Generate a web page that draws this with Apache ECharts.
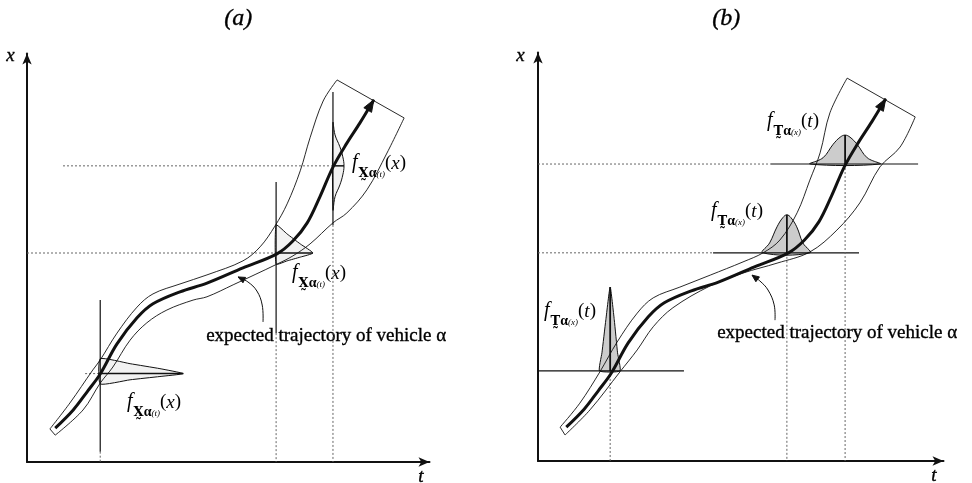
<!DOCTYPE html>
<html>
<head>
<meta charset="utf-8">
<script src="https://cdn.jsdelivr.net/npm/echarts@6/dist/echarts.min.js"></script>
<style>
  html, body { margin: 0; padding: 0; background: #fff; }
  #chart { width: 972px; height: 483px; }
</style>
</head>
<body>
<div id="chart"></div>
<script>
// ---- data (t, x) in axis units ----
// expected trajectory of vehicle alpha (same in both panels)
const trajectory = [[6.9,8.2],[11.3,12.6],[14.7,17.0],[17.9,21.3],[22.0,28.6],[26.9,34.9],[30.8,38.3],
  [37.4,41.2],[44.0,43.3],[52.8,47.0],[61.1,50.4],[65.0,53.5],[68.5,57.9],[71.6,64.2],[74.8,71.4],
  [78.2,77.2],[81.4,82.1],[84.8,87.7]];

// panel (a): uncertainty band spreading in x
const upperA = [[5.6,8.0],[10.5,14.3],[16.1,22.3],[17.9,24.7],[22.0,31.2],[26.9,37.5],[30.8,40.7],[37.4,43.1],
  [44.0,45.3],[52.8,48.7],[57.0,52.1],[60.6,57.1],[63.6,62.5],[66.8,70.5],[69.2,78.5],[72.4,87.4],[75.8,92.5]];
const lowerA = [[6.9,6.5],[13.7,12.6],[17.9,19.1],[21.0,23.0],[25.2,29.5],[29.3,33.7],[34.2,36.8],[40.6,39.2],
  [44.0,40.0],[50.4,42.9],[61.1,47.9],[65.0,49.9],[69.2,52.8],[74.8,57.9],[78.2,60.3],[83.1,65.9],[88.0,74.8],[92.2,83.3]];

// panel (b): uncertainty band spreading in t
const upperB = [[5.4,8.2],[10.2,14.0],[15.1,21.6],[19.3,28.8],[24.2,35.8],[28.1,39.5],[34.6,42.1],[42.0,45.0],
  [50.0,48.2],[54.9,50.4],[59.0,53.5],[63.2,60.1],[66.3,68.0],[68.8,74.6],[71.2,84.3],[75.4,92.7]];
const lowerB = [[6.6,6.3],[12.7,12.4],[20.0,21.6],[24.2,26.9],[28.1,32.5],[32.9,37.1],[42.0,42.4],[50.0,45.5],
  [58.3,47.9],[66.3,50.6],[72.9,55.9],[78.5,62.5],[83.4,71.2],[88.3,76.0],[92.0,83.3]];

// densities of X(t) in panel (a): mean point and [offset in x, density]
const meansA = [[17.9,21.4],[60.9,50.6],[74.8,71.7]];
const densA1 = [[3.6,0],[2.4,7.3],[1.2,14.6],[0,20.3],[-0.7,14.6],[-1.5,7.3],[-2.5,0]];
const densA2 = [[6.8,0],[4.6,2.7],[2.2,5.9],[0,9.0],[-1.0,5.9],[-1.9,2.7],[-2.7,0]];
const densA3 = [[10.4,0],[7.5,0.5],[4.6,1.7],[2.2,2.4],[0,2.7],[-2.2,2.4],[-4.6,1.7],[-7.5,0.5],[-10.6,0]];
// vertical reference lines of panel (a): [t, solid top, solid bottom]
const cutsA = [[17.9,39.2,2.5],[60.9,67.8,31.2],[74.8,89.6,57.4]];
// dotted level lines of panel (a): [x, t from, t to]
const levelsA = [[21.4,14.2,17.9],[50.6,0,60.9],[71.7,8.8,74.8]];

// densities of T(x) in panel (b): mean point and [offset in t, density]
const meansB = [[17.6,21.8],[60.7,50.4],[74.9,71.9]];
const densB1 = [[-2.6,0],[-2.0,4.4],[-1.05,12.4],[0,20.3],[1.0,12.4],[1.8,4.4],[2.4,0]];
const densB2 = [[-5.9,0],[-4.2,2.4],[-2.4,6.3],[-1.0,8.5],[0,9.2],[1.0,8.5],[2.4,6.3],[3.9,2.4],[5.6,0]];
const densB3 = [[-8.5,0],[-5.4,1.5],[-2.9,4.8],[-1.2,6.5],[0,7.0],[1.2,6.5],[2.9,4.8],[5.4,1.5],[8.5,0]];
// horizontal level lines of panel (b): [x, dotted from, solid from, solid to]
const levelsB = [[21.8,0,0,35.6],[50.4,0,42.7,78.3],[71.9,0,56.8,92.7]];

// pointer from the caption to the trajectory
const pointerA = [[57.7,33.9],[57.5,38.0],[56.2,41.4],[54.0,43.6],[51.6,44.8]];
const pointerB = [[57.8,34.1],[57.6,37.8],[56.1,41.4],[54.1,43.6],[52.2,45.0]];

// ---- drawing helpers ----
const SERIF = 'Liberation Serif, Times New Roman, serif';
const INK = '#111';

function arrowHead(p0, p1, len, half) {
  const dx = p1[0] - p0[0], dy = p1[1] - p0[1];
  const d = Math.hypot(dx, dy) || 1;
  const ux = dx / d, uy = dy / d, nx = -uy, ny = ux;
  const bx = p1[0] - ux * len, by = p1[1] - uy * len;
  return [[p1[0], p1[1]], [bx + nx * half, by + ny * half], [bx - nx * half, by - ny * half]];
}

// one custom series drawing a polyline / polygon through the grid's axes
function shape(gi, pts, style, opt) {
  opt = opt || {};
  return {
    type: 'custom', xAxisIndex: gi, yAxisIndex: gi, silent: true, clip: false,
    animation: false, z: opt.z || 2, data: [[0, 0]],
    renderItem: function (params, api) {
      const p = pts.map(function (d) { return api.coord(d); });
      const kids = [{
        type: opt.closed ? 'polygon' : 'polyline',
        shape: { points: p, smooth: opt.smooth || 0 },
        style: Object.assign({ fill: 'none', stroke: INK, lineWidth: 1 }, style)
      }];
      if (opt.arrow) {
        const n = p.length;
        kids.push({ type: 'polygon', shape: { points: arrowHead(p[n - 2], p[n - 1], opt.arrow[0], opt.arrow[1]) },
          style: { fill: INK, stroke: INK, lineWidth: 1 } });
      }
      return { type: 'group', children: kids };
    }
  };
}

const dotted = { stroke: '#666', lineWidth: 1, lineDash: [2, 2] };
const series = [];

// --- panel (a) ---
levelsA.forEach(function (l) { series.push(shape(0, [[l[1], l[0]], [l[2], l[0]]], dotted)); });
cutsA.forEach(function (c) {
  series.push(shape(0, [[c[0], c[1]], [c[0], c[2]]], { lineWidth: 1.2 }));
  series.push(shape(0, [[c[0], c[2]], [c[0], 0]], dotted));
});
[densA1, densA2, densA3].forEach(function (d, i) {
  const m = meansA[i];
  const pts = d.map(function (q) { return [m[0] + q[1], m[1] + q[0]]; });
  series.push(shape(0, pts, { fill: 'rgba(0,0,0,0.05)', lineWidth: 1 }, { closed: true, smooth: i === 2 ? 0.4 : 0.15, z: 3 }));
  const peak = Math.max.apply(null, d.map(function (q) { return q[1]; }));
  series.push(shape(0, [[m[0], m[1]], [m[0] + peak, m[1]]], { lineWidth: 1.5 }, { z: 3 }));
});
series.push(shape(0, upperA, { lineWidth: 0.9 }, { smooth: 0.35, z: 4 }));
series.push(shape(0, lowerA, { lineWidth: 0.9 }, { smooth: 0.35, z: 4 }));
series.push(shape(0, [upperA[0], lowerA[0]], { lineWidth: 0.9 }, { z: 4 }));
series.push(shape(0, [upperA[upperA.length - 1], lowerA[lowerA.length - 1]], { lineWidth: 0.9 }, { z: 4 }));
series.push(shape(0, trajectory, { lineWidth: 3 }, { smooth: 0.35, z: 5, arrow: [12, 4.5] }));
series.push(shape(0, pointerA, { lineWidth: 1 }, { smooth: 0.4, z: 5, arrow: [7, 3] }));

// --- panel (b) ---
levelsB.forEach(function (l) {
  if (l[2] > l[1]) series.push(shape(1, [[l[1], l[0]], [l[2], l[0]]], dotted));
  series.push(shape(1, [[l[2], l[0]], [l[3], l[0]]], { lineWidth: 1.2 }));
});
meansB.forEach(function (m) { series.push(shape(1, [[m[0], m[1]], [m[0], 0]], dotted)); });
[densB1, densB2, densB3].forEach(function (d, i) {
  const m = meansB[i];
  const pts = d.map(function (q) { return [m[0] + q[0], m[1] + q[1]]; });
  series.push(shape(1, pts, { fill: 'rgba(0,0,0,0.2)', lineWidth: 1 }, { closed: true, smooth: i === 0 ? 0.15 : 0.4, z: 3 }));
  const peak = Math.max.apply(null, d.map(function (q) { return q[1]; }));
  series.push(shape(1, [[m[0], m[1]], [m[0], m[1] + peak]], { lineWidth: 1.8 }, { z: 3 }));
});
series.push(shape(1, upperB, { lineWidth: 0.9 }, { smooth: 0.35, z: 4 }));
series.push(shape(1, lowerB, { lineWidth: 0.9 }, { smooth: 0.35, z: 4 }));
series.push(shape(1, [upperB[0], lowerB[0]], { lineWidth: 0.9 }, { z: 4 }));
series.push(shape(1, [upperB[upperB.length - 1], lowerB[lowerB.length - 1]], { lineWidth: 0.9 }, { z: 4 }));
series.push(shape(1, trajectory, { lineWidth: 3 }, { smooth: 0.35, z: 5, arrow: [12, 4.5] }));
series.push(shape(1, pointerB, { lineWidth: 1 }, { smooth: 0.4, z: 5, arrow: [7, 3] }));

// ---- axes ----
function axis(gi, max) {
  return {
    type: 'value', gridIndex: gi, min: 0, max: max,
    axisLine: { show: true, onZero: false, symbol: ['none', 'arrow'], symbolSize: [7, 11],
      lineStyle: { color: INK, width: 2 } },
    axisTick: { show: false }, axisLabel: { show: false }, splitLine: { show: false }
  };
}

// ---- rich labels f_{X(t)}(x) / f_{T(x)}(t) ----
const rich = {
  f: { fontFamily: SERIF, fontStyle: 'italic', fontSize: 20, verticalAlign: 'bottom', padding: [0, 1, 7, 0] },
  s: { fontFamily: 'DejaVu Serif', fontWeight: 'bold', fontSize: 13, verticalAlign: 'bottom', padding: [0, 0, 0, 0] },
  a: { fontFamily: SERIF, fontWeight: 'bold', fontSize: 14, verticalAlign: 'bottom', padding: [0, 0, 0, 0] },
  u: { fontFamily: SERIF, fontStyle: 'italic', fontSize: 9, verticalAlign: 'bottom', padding: [0, 0, 1, 0] },
  o: { fontFamily: SERIF, fontSize: 19, verticalAlign: 'bottom', padding: [0, 0, 7, 0] },
  v: { fontFamily: SERIF, fontStyle: 'italic', fontSize: 19, verticalAlign: 'bottom', padding: [0, 0, 7, 0] }
};
function fText(sym, inner, arg) {
  return '{f|f}{s|' + sym + '\u0330}{a|α}{u|(' + inner + ')}{o|(}{v|' + arg + '}{o|)}';
}
function label(left, top, text) {
  return { type: 'text', left: left, top: top, silent: true,
    style: { text: text, rich: rich, fill: '#000' } };
}
function plain(left, top, text, size, italic) {
  return { type: 'text', left: left, top: top, silent: true,
    style: { text: text, fill: '#000', fontFamily: SERIF, fontSize: size,
      fontStyle: italic ? 'italic' : 'normal', stroke: '#000', lineWidth: 0.35 } };
}

const chart = echarts.init(document.getElementById('chart'), null, { renderer: 'canvas' });
chart.setOption({
  backgroundColor: '#fff',
  animation: false,
  grid: [
    { left: 27, width: 402.5, top: 53.5, height: 408.5 },
    { left: 538, width: 405.5, top: 52.5, height: 408.5 }
  ],
  xAxis: [axis(0, 98.4), axis(1, 98.9)],
  yAxis: [axis(0, 98.9), axis(1, 98.9)],
  series: series,
  graphic: [
    plain(224, 7, '(a)', 24, true),
    plain(712, 7, '(b)', 24, true),
    plain(6, 46, 'x', 19, true),
    plain(516, 46, 'x', 19, true),
    plain(418, 467, 't', 19, true),
    plain(931, 466, 't', 19, true),
    plain(206, 326, 'expected trajectory of vehicle α', 19, false),
    plain(717, 323, 'expected trajectory of vehicle α', 19, false),
    label(127, 392, fText('X', 't', 'x')),
    label(292, 263, fText('X', 't', 'x')),
    label(352, 153, fText('X', 't', 'x')),
    label(544, 301, fText('T', 'x', 't')),
    label(711, 201, fText('T', 'x', 't')),
    label(767, 111, fText('T', 'x', 't'))
  ]
});
</script>
</body>
</html>
